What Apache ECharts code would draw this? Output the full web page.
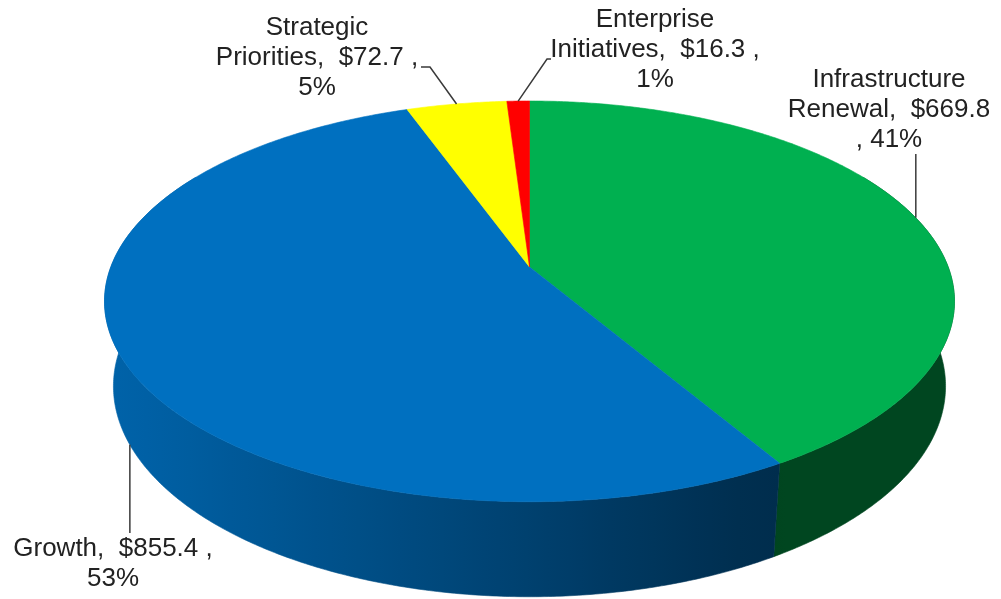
<!DOCTYPE html>
<html>
<head>
<meta charset="utf-8">
<script src="https://cdn.jsdelivr.net/npm/echarts@6/dist/echarts.min.js"></script>
<style>
  html, body { margin: 0; padding: 0; background: #ffffff; }
  #chart { width: 1001px; height: 599px; }
</style>
</head>
<body>
<div id="chart"></div>
<script>
// ---- data ----
const categories = ['Infrastructure Renewal', 'Growth', 'Strategic Priorities', 'Enterprise Initiatives'];
const amounts = [669.8, 855.4, 72.7, 16.3];

// ---- styling / layout ----
const sliceColors = ['#00B050', '#0070C0', '#FFFF00', '#FF0000'];
// where each name is wrapped onto two lines
const nameLines = [['Infrastructure', 'Renewal'], ['Growth'], ['Strategic', 'Priorities'], ['Enterprise', 'Initiatives']];
// true: the percentage line starts with the comma
const commaOnPctLine = [true, false, false, false];
const labelCenters = [[889, 110], [113, 564], [317, 58], [655, 50]];
// leader lines: optional elbow and end point (null x = straight vertical from the anchor)
const leaderElbows = [null, null, [430, 67], [547, 59]];
const leaderEnds = [[null, 154], [null, 533], [421, 67], [551, 59]];

// camera for the tilted disc
const CX = 529.5, CY = 267, FOCAL = 2162, DIST = 5.164;
const SIN_A = 0.4645, COS_A = Math.sqrt(1 - SIN_A * SIN_A);
const THICK = 0.2308;

const total = amounts.reduce((a, b) => a + b, 0);
const startAngles = [];
(function () {
  let acc = 0;
  amounts.forEach(v => { startAngles.push(acc / total * 360); acc += v; });
})();

// angle in degrees, clockwise from the back of the disc; y = height (0 top, -THICK base)
function project(theta, r, y) {
  const t = theta * Math.PI / 180;
  const u = r * Math.sin(t), v = r * Math.cos(t);
  const yc = y * COS_A + v * SIN_A;
  const zc = DIST + v * COS_A - y * SIN_A;
  return [CX + FOCAL * u / zc, CY - FOCAL * yc / zc];
}

function arc(a0, a1, y, step) {
  const n = Math.max(2, Math.ceil(Math.abs(a1 - a0) / step));
  const pts = [];
  for (let k = 0; k <= n; k++) pts.push(project(a0 + (a1 - a0) * k / n, 1, y));
  return pts;
}

function hexToRgb(hex) {
  const n = parseInt(hex.slice(1), 16);
  return [(n >> 16) & 255, (n >> 8) & 255, n & 255];
}

// side-wall brightness, lit from the left
function wallShade(x) {
  if (x <= 120) return 0.88;
  if (x >= 775) return 0.40;
  return 0.88 + (x - 120) / (775 - 120) * (0.39 - 0.88);
}

function sliceSpan(i, value) {
  const a0 = startAngles[i];
  return [a0, a0 + value / total * 360];
}

const seriesData = amounts.map((v, i) => ({ name: categories[i], value: [v] }));

const option = {
  backgroundColor: '#ffffff',
  animation: false,
  series: [
    {
      // outer walls
      type: 'custom',
      coordinateSystem: 'none',
      z: 1,
      data: seriesData,
      renderItem(params, api) {
        const i = params.dataIndex;
        const [a0, a1] = sliceSpan(i, api.value(0));
        const lo = Math.max(a0, 60), hi = Math.min(a1, 300);
        if (hi <= lo) return { type: 'group', children: [] };
        const top = arc(lo, hi, 0, 0.5);
        const base = arc(hi, lo, -THICK, 0.5);
        const pts = top.concat(base);
        let minX = Infinity, maxX = -Infinity;
        pts.forEach(p => { minX = Math.min(minX, p[0]); maxX = Math.max(maxX, p[0]); });
        const rgb = hexToRgb(sliceColors[i]);
        const stops = [];
        const N = 16;
        for (let k = 0; k <= N; k++) {
          const x = minX + (maxX - minX) * k / N;
          const f = wallShade(x);
          stops.push({
            offset: k / N,
            color: 'rgb(' + rgb.map(c => Math.round(c * f)).join(',') + ')'
          });
        }
        const grad = new echarts.graphic.LinearGradient(minX, 0, maxX + 0.01, 0, stops, true);
        return {
          type: 'polygon',
          shape: { points: pts },
          style: { fill: grad, stroke: grad, lineWidth: 0.6 }
        };
      }
    },
    {
      // top faces
      type: 'custom',
      coordinateSystem: 'none',
      z: 2,
      data: seriesData,
      renderItem(params, api) {
        const i = params.dataIndex;
        const [a0, a1] = sliceSpan(i, api.value(0));
        const pts = [project(0, 0, 0)].concat(arc(a0, a1, 0, 0.5));
        return {
          type: 'polygon',
          shape: { points: pts },
          style: { fill: sliceColors[i], stroke: sliceColors[i], lineWidth: 0.6 }
        };
      }
    },
    {
      // data labels with leader lines
      type: 'custom',
      coordinateSystem: 'none',
      z: 3,
      data: seriesData,
      renderItem(params, api) {
        const i = params.dataIndex;
        const v = api.value(0);
        const [a0, a1] = sliceSpan(i, v);
        const mid = (a0 + a1) / 2;
        const front = Math.cos(mid * Math.PI / 180) < 0;
        const anchor = project(mid, 1, front ? -THICK : 0);
        const pct = Math.round(v / total * 100);
        const names = nameLines[i].slice();
        const money = '$' + v.toFixed(1);
        const last = names.pop();
        let text;
        if (commaOnPctLine[i]) {
          text = names.concat([last + ',  ' + money, ', ' + pct + '%']).join('\n');
        } else {
          text = names.concat([last + ',  ' + money + ' ,', pct + '%']).join('\n');
        }
        const end = leaderEnds[i];
        const pts = [anchor];
        if (leaderElbows[i]) pts.push(leaderElbows[i]);
        pts.push([end[0] == null ? anchor[0] : end[0], end[1]]);
        return {
          type: 'group',
          children: [
            {
              type: 'polyline',
              shape: { points: pts },
              style: { stroke: '#3a3a3a', lineWidth: 1.5, fill: null }
            },
            {
              type: 'text',
              style: {
                x: labelCenters[i][0],
                y: labelCenters[i][1],
                text: text,
                fill: '#222222',
                fontSize: 26,
                fontFamily: '"Liberation Sans", Arial, sans-serif',
                lineHeight: 30,
                align: 'center',
                verticalAlign: 'middle'
              }
            }
          ]
        };
      }
    }
  ]
};

const chart = echarts.init(document.getElementById('chart'), null, { renderer: 'canvas' });
chart.setOption(option);
</script>
</body>
</html>
